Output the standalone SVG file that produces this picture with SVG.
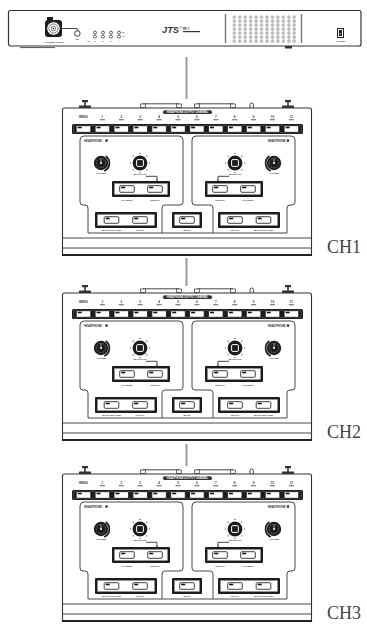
<svg xmlns="http://www.w3.org/2000/svg" xmlns:xlink="http://www.w3.org/1999/xlink" width="367" height="627" viewBox="0 0 367 627">
<style>
.ln{stroke:#333;fill:none;stroke-width:0.9}
.t{font-family:"Liberation Sans",Arial,sans-serif;fill:#333;font-weight:bold}
.tw{font-family:"Liberation Sans",Arial,sans-serif;fill:#fff;font-weight:bold}
.ch{font-family:"Liberation Serif","Times New Roman",serif;font-size:18px;fill:#444}
.con{stroke:#9a9a9a;stroke-width:2;fill:none}
.dk{fill:#1c1c1c}
</style>
<defs>
<pattern id="holes" x="231.6" y="15.2" width="5.45" height="4" patternUnits="userSpaceOnUse">
<circle cx="2.7" cy="2" r="1.15" fill="none" stroke="#444" stroke-width="0.55"/>
</pattern>
<g id="btn">
<rect x="-7.3" y="-3.3" width="14.6" height="6.6" rx="1" fill="#fff" stroke="#111" stroke-width="0.8"/>
<rect x="-5.8" y="-2.3" width="4" height="1.6" fill="#111"/>
</g>
<g id="vol">
<path d="M4.6 -7 A8.6 8.6 0 0 1 3.2 8" stroke="#222" stroke-width="1.8" fill="none"/>
<circle r="7.2" class="dk"/>
<circle r="4.7" fill="none" stroke="#fff" stroke-width="0.5" stroke-dasharray="0.6 0.9"/>
<line x1="0" y1="0" x2="0" y2="-4.4" stroke="#fff" stroke-width="0.6"/>
<circle r="1" fill="#fff"/>
</g>
<g id="sel">
<g fill="#333">
<circle cx="0" cy="-9.6" r="0.6"/><circle cx="6.8" cy="-6.8" r="0.6"/><circle cx="9.6" cy="0" r="0.6"/><circle cx="6.8" cy="6.8" r="0.6"/>
<circle cx="0" cy="9.6" r="0.6"/><circle cx="-6.8" cy="6.8" r="0.6"/><circle cx="-9.6" cy="0" r="0.6"/><circle cx="-6.8" cy="-6.8" r="0.6"/>
</g>
<circle r="7.4" class="dk"/>
<rect x="-3.4" y="-3.4" width="6.8" height="6.8" rx="1.2" fill="none" stroke="#fff" stroke-width="1"/>
</g>
<path id="hpanel" class="ln" d="M84 136H179Q183 136 183 140V202Q183 205 180 205H165Q162 205 162 208V233H88V208Q88 205 85 205H83Q80 205 80 202V140Q80 136 84 136Z"/>
<g id="unit">
<g fill="#333">
<rect x="82" y="100" width="6" height="2.2"/><rect x="84.2" y="101.5" width="1.6" height="4.5"/><rect x="79" y="105.5" width="12" height="2.5" rx="0.5"/>
<rect x="285" y="100" width="6" height="2.2"/><rect x="287.2" y="101.5" width="1.6" height="4.5"/><rect x="282" y="105.5" width="12" height="2.5" rx="0.5"/>
</g>
<path class="ln" d="M143 108V103.8H179V108M197 108V103.8H233V108M250 108V104.5Q250 103 251.7 103Q253.4 103 253.4 104.5V108" stroke-width="0.8"/>
<g fill="#fff" stroke="#333" stroke-width="0.7">
<rect x="140.5" y="104" width="5" height="3.5"/><rect x="176.5" y="104" width="5" height="3.5"/>
<rect x="194.5" y="104" width="5" height="3.5"/><rect x="230.5" y="104" width="5" height="3.5"/>
</g>
<path d="M62.5 255V110Q62.5 108 64.5 108H309.5Q311.5 108 311.5 110V255Z" fill="#fff" stroke="#333" stroke-width="1.1"/>
<line class="ln" x1="62.5" y1="238" x2="311.5" y2="238"/>
<line class="ln" x1="62.5" y1="248" x2="311.5" y2="248"/>
<line x1="62" y1="255" x2="312" y2="255" stroke="#222" stroke-width="1.8"/>
<rect x="163" y="110.3" width="49" height="3.8" rx="1.9" fill="#333"/>
<text class="tw" x="187.5" y="113.1" font-size="2.6" text-anchor="middle">HEADPHONE OUTPUT CHANNEL</text>
<g class="t" font-size="3" text-anchor="middle">
<text x="83.5" y="118.4">MENU</text>
<text x="102.4" y="118">1</text><text x="121.3" y="118">2</text><text x="140.2" y="118">3</text><text x="159.1" y="118">4</text>
<text x="178" y="118">5</text><text x="196.9" y="118">6</text><text x="215.8" y="118">7</text><text x="234.7" y="118">8</text>
<text x="253.6" y="118">9</text><text x="272.5" y="118">10</text><text x="291.4" y="118">11</text>
</g>
<g fill="#333">
<rect x="99.9" y="119.4" width="5" height="0.8"/><rect x="118.8" y="119.4" width="5" height="0.8"/><rect x="137.7" y="119.4" width="5" height="0.8"/>
<rect x="156.6" y="119.4" width="5" height="0.8"/><rect x="175.5" y="119.4" width="5" height="0.8"/><rect x="194.4" y="119.4" width="5" height="0.8"/>
<rect x="213.3" y="119.4" width="5" height="0.8"/><rect x="232.2" y="119.4" width="5" height="0.8"/><rect x="251.1" y="119.4" width="5" height="0.8"/>
<rect x="270" y="119.4" width="5" height="0.8"/><rect x="288.9" y="119.4" width="5" height="0.8"/>
</g>
<rect x="72" y="124" width="231" height="10" rx="1.5" class="dk"/>
<rect x="73.6" y="125.4" width="227.8" height="7.2" rx="0.8" fill="none" stroke="#888" stroke-width="0.4"/>
<use xlink:href="#btn" x="83.5" y="129"/><use xlink:href="#btn" x="102.4" y="129"/><use xlink:href="#btn" x="121.3" y="129"/>
<use xlink:href="#btn" x="140.2" y="129"/><use xlink:href="#btn" x="159.1" y="129"/><use xlink:href="#btn" x="178" y="129"/>
<use xlink:href="#btn" x="196.9" y="129"/><use xlink:href="#btn" x="215.8" y="129"/><use xlink:href="#btn" x="234.7" y="129"/>
<use xlink:href="#btn" x="253.6" y="129"/><use xlink:href="#btn" x="272.5" y="129"/><use xlink:href="#btn" x="291.4" y="129"/>
<use xlink:href="#hpanel"/>
<use xlink:href="#hpanel" transform="translate(375,0) scale(-1,1)"/>
<line class="ln" x1="162" y1="233" x2="213" y2="233"/>
<text class="t" x="84" y="141.6" font-size="2.8">HEADPHONE</text>
<circle cx="106.5" cy="140.6" r="1.3" fill="#333"/>
<text class="t" x="285.6" y="141.6" font-size="2.8" text-anchor="end">HEADPHONE</text>
<circle cx="288" cy="140.6" r="1.3" fill="#333"/>
<use xlink:href="#vol" x="101" y="163"/>
<use xlink:href="#vol" transform="translate(274,163) scale(-1,1)"/>
<use xlink:href="#sel" x="140" y="163"/>
<use xlink:href="#sel" x="235" y="163"/>
<g class="t" font-size="2.4" text-anchor="middle">
<text x="101" y="173.6">VOLUME</text><text x="274" y="173.6">VOLUME</text>
<text x="140" y="175.4">SELECTOR</text><text x="235" y="175.4">SELECTOR</text>
</g>
<path class="ln" stroke-width="0.45" d="M146 176.3H157V180.3M229 176.3H218V180.3"/>
<path fill="#333" d="M155.8 179.8H158.2L157 181.3ZM216.8 179.8H219.2L218 181.3Z"/>
<rect x="112" y="181" width="58" height="16" rx="1" class="dk"/>
<rect x="114.5" y="183.5" width="53" height="11" fill="#fff" stroke="#999" stroke-width="0.4"/>
<use xlink:href="#btn" x="127" y="189"/><use xlink:href="#btn" x="155" y="189"/>
<rect x="205" y="181" width="58" height="16" rx="1" class="dk"/>
<rect x="207.5" y="183.5" width="53" height="11" fill="#fff" stroke="#999" stroke-width="0.4"/>
<use xlink:href="#btn" x="220" y="189"/><use xlink:href="#btn" x="248" y="189"/>
<g class="t" font-size="2.4" text-anchor="middle">
<text x="127" y="200.5">CHANNEL</text><text x="155" y="200.5">SELECT</text>
<text x="220" y="200.5">SELECT</text><text x="248" y="200.5">CHANNEL</text>
</g>
<rect x="95" y="212" width="62" height="16" rx="1" class="dk"/>
<rect x="97.5" y="214.5" width="57" height="11" fill="#fff" stroke="#999" stroke-width="0.4"/>
<use xlink:href="#btn" x="111.5" y="220"/><use xlink:href="#btn" x="140" y="220"/>
<rect x="172" y="212" width="30" height="16" rx="1" class="dk"/>
<rect x="174.5" y="214.5" width="25" height="11" fill="#fff" stroke="#999" stroke-width="0.4"/>
<use xlink:href="#btn" x="187" y="220"/>
<rect x="218" y="212" width="62" height="16" rx="1" class="dk"/>
<rect x="220.5" y="214.5" width="57" height="11" fill="#fff" stroke="#999" stroke-width="0.4"/>
<use xlink:href="#btn" x="235" y="220"/><use xlink:href="#btn" x="263.5" y="220"/>
<g class="t" font-size="2.4" text-anchor="middle">
<text x="111.5" y="231">MIC &amp; SPEAKER</text><text x="140" y="231">ON/OFF</text>
<text x="187" y="231">MUTE</text>
<text x="235" y="231">ON/OFF</text><text x="263.5" y="231">MIC &amp; SPEAKER</text>
</g>
</g>
</defs>
<rect width="367" height="627" fill="#fff"/>
<g id="connectors">
<line class="con" x1="186.5" y1="57" x2="186.5" y2="99"/>
<line class="con" x1="186.5" y1="258" x2="186.5" y2="286"/>
<line class="con" x1="186.5" y1="444" x2="186.5" y2="466"/>
</g>
<g id="base-unit">
<rect x="8.5" y="10.5" width="352.5" height="35.5" rx="2" fill="#fff" stroke="#333" stroke-width="1.2"/>
<line x1="20" y1="47.6" x2="55" y2="47.6" stroke="#555" stroke-width="1"/>
<rect x="285" y="46" width="7" height="2.5" fill="#333"/>
<rect x="47" y="17" width="6" height="3.5" class="dk"/>
<rect x="45" y="20" width="17" height="17" rx="3" class="dk"/>
<circle cx="53.5" cy="28.5" r="6.8" fill="#fff" stroke="#222" stroke-width="1"/>
<circle cx="53.5" cy="28.5" r="4.6" fill="none" stroke="#222" stroke-width="0.6"/>
<circle cx="53.5" cy="28.5" r="2.2" fill="none" stroke="#222" stroke-width="0.6"/>
<circle cx="53.5" cy="28.5" r="0.8" fill="#222"/>
<text class="t" x="54" y="43.4" font-size="2.4" text-anchor="middle">ANTENNA INPUT</text>
<path class="ln" stroke-width="0.6" d="M62 28.5H77.3V30.7"/>
<circle cx="77.3" cy="33.5" r="2.8" fill="#fff" stroke="#222" stroke-width="0.9"/>
<text class="t" x="77.3" y="40" font-size="2.4" text-anchor="middle">DC</text>
<g fill="#fff" stroke="#222" stroke-width="0.7">
<circle cx="95" cy="32.6" r="1.5"/><circle cx="95" cy="36.6" r="1.5"/>
<circle cx="103" cy="32.6" r="1.5"/><circle cx="103" cy="36.6" r="1.5"/>
<circle cx="111" cy="32.6" r="1.5"/><circle cx="111" cy="36.6" r="1.5"/>
<circle cx="119" cy="32.6" r="1.5"/><circle cx="119" cy="36.6" r="1.5"/>
</g>
<g class="t" font-size="2.4" text-anchor="middle">
<text x="88.5" y="42">ID</text><text x="95" y="42">1</text><text x="103" y="42">2</text><text x="111" y="42">3</text><text x="119" y="42">4</text>
</g>
<text class="t" x="122" y="33.4" font-size="2.2">RF</text>
<text class="t" x="122" y="37.2" font-size="2.2">AF</text>
<text class="t" x="162" y="32.6" font-size="8.5" font-style="italic" font-weight="900" textLength="17" lengthAdjust="spacingAndGlyphs">JTS</text>
<text class="t" x="180" y="28.5" font-size="2.6">®</text>
<text class="t" x="183" y="29.8" font-size="2.8">RF-1</text>
<rect x="183" y="31" width="17" height="1.2" fill="#333"/>
<line x1="225.5" y1="14" x2="225.5" y2="43" stroke="#777" stroke-width="1.4"/>
<line x1="301.5" y1="14" x2="301.5" y2="43" stroke="#777" stroke-width="1.4"/>
<rect x="231.6" y="15.2" width="65.4" height="28" fill="url(#holes)"/>
<rect x="337.5" y="28.5" width="6" height="9" fill="#fff" stroke="#222" stroke-width="1"/>
<rect x="339" y="30" width="3" height="6" fill="#222"/>
<circle cx="340.5" cy="33.8" r="0.6" fill="#fff"/>
<text class="t" x="340.5" y="41.6" font-size="2.3" text-anchor="middle">POWER</text>
</g>
<g id="ch1">
<use xlink:href="#unit"/>
<text class="ch" x="327" y="253">CH1</text>
</g>
<g id="ch2" transform="translate(0,185)">
<use xlink:href="#unit"/>
<text class="ch" x="327" y="253">CH2</text>
</g>
<g id="ch3" transform="translate(0,366)">
<use xlink:href="#unit"/>
<text class="ch" x="327" y="253">CH3</text>
</g>
</svg>
